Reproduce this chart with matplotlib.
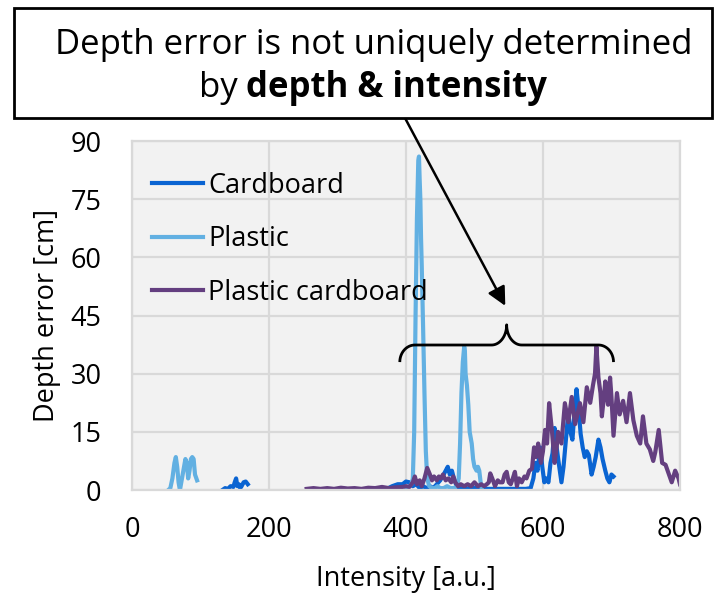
import numpy as np
import matplotlib
matplotlib.use("Agg")
import matplotlib.pyplot as plt
from matplotlib.patches import Rectangle

plt.rcParams['font.family'] = ['Open Sans', 'DejaVu Sans']

nan = np.nan

# Cardboard (two clusters, separated by NaN)
cardboard_x = [132, 136, 140, 144, 148, 150, 152, 154, 156, 158, 160, 163, 166, 169, nan,
               365, 372, 380, 388, 395, 400, 405, 410, 415, 420,
               425, 430, 435, 440, 445, 450, 455, 458, 461, 464,
               467, 470, 474, 478, 485, 495, 505, 515, 525, 535,
               545, 555, 565, 575, 582, 586, 589, 592, 596, 599,
               602, 605, 608, 611, 614, 617, 620, 623, 627, 630,
               633, 637, 640, 643, 646, 649, 652, 655, 658, 661,
               664, 667, 671, 674, 677, 681, 684, 687, 691, 694,
               697, 700, 703]
cardboard_y = [0, 0.5, 0.3, 1, 0.8, 2, 3, 1, 1.5, 0.5, 1, 2, 2.2, 1.5, nan,
               0.5, 0.3, 1, 1.5, 1.5, 2.2, 2, 1, 1.5, 0.5,
               1, 0.5, 1, 0.5, 1.5, 2.5, 4, 5, 6, 4,
               5, 3, 1, 0.5, 0.3, 0.5, 0.5, 0.3, 0.3, 0.3,
               0.3, 0.3, 0.3, 0.3, 0.5, 3, 7, 5, 11, 6,
               2, 3, 2, 7, 9.5, 16, 11, 7, 2, 6,
               12, 20, 15, 13, 20, 26, 21, 14.5, 11, 8.5,
               10, 9, 4, 6, 8.5, 13, 11, 8, 5, 3,
               2, 4, 3.5]

# Plastic
plastic_x = [53, 56, 59, 62, 64, 66, 68, 70, 72, 75, 78, 80, 82, 84, 86, 88, 90, 92, 95, nan,
             400, 405, 408, 410, 412, 414, 416, 418, 419, 420,
             421, 422, 423, 425, 427, 429, 431, 434, 438, 442,
             446, 450, 455, 460, 465, 470, 474, 477, 479, 481,
             483, 485, 486, 487, 489, 491, 493, 496, 498, 500,
             503, 505, 507, 509, 511]
plastic_y = [0, 0.5, 3, 7, 8.5, 6, 2, 0, 2, 5, 8, 7, 3, 5, 8, 8.5, 8, 4, 2.5, nan,
             0.5, 1, 1.5, 3, 15, 45, 70, 85, 86, 80,
             75, 65, 58, 42, 25, 10, 3, 1, 0.5, 0.5,
             1, 0.5, 0.5, 1, 0.5, 0.5, 1, 3, 12, 25,
             33, 37, 36, 30, 27, 22, 15, 12, 8, 6,
             5, 6, 5, 2, 0]

# Plastic cardboard
plcard_x = [255, 265, 275, 285, 295, 305, 315, 325, 335, 345,
            355, 365, 375, 385, 395, 400, 405, 410, 413, 416,
            420, 423, 427, 431, 435, 438, 441, 445, 448, 451,
            454, 458, 462, 466, 469, 472, 476, 480, 485, 490,
            495, 500, 505, 510, 514, 518, 521, 523, 526, 530,
            534, 537, 541, 544, 547, 550, 553, 556, 559, 562,
            565, 569, 573, 576, 580, 584, 587, 590, 593, 597,
            600, 603, 606, 609, 613, 617, 620, 622, 627, 632,
            637, 642, 647, 651, 654, 659, 664, 669, 673, 676,
            678, 681, 684, 686, 689, 691, 695, 698, 700, 703,
            708, 712, 717, 722, 727, 732, 737, 742, 746, 751,
            756, 761, 764, 769, 774, 779, 783, 788, 793, 798, 800]
plcard_y = [0.3, 0.5, 0.3, 0.5, 0.3, 0.6, 0.4, 0.5, 0.3, 0.6,
            0.5, 0.8, 0.5, 0.7, 0.8, 1, 0.8, 2, 3.5, 1.5,
            2.5, 1, 3, 5.7, 4, 2.5, 3.5, 2.5, 3.5, 3,
            4, 2.5, 3, 2, 3.5, 2, 1, 1.5, 1, 1.5,
            1, 2, 1, 1.5, 1, 1.5, 2, 4.3, 3, 1,
            2.5, 2, 2, 4, 4.7, 2, 1.5, 3, 4.7, 1,
            3, 2, 3.5, 3, 5, 5.5, 11, 8.5, 12, 7,
            10, 15.5, 12, 22.4, 15.5, 7, 11, 15, 12, 22.4,
            17.5, 24, 17, 20, 22.4, 17.5, 26.5, 22.5, 27, 30,
            37, 29, 25, 19, 24, 28, 22, 29, 24, 14,
            25, 19.5, 23, 17.5, 25, 18, 14, 12, 19, 12,
            10.5, 7.5, 9.8, 15.5, 7, 6.5, 4.5, 2, 5, 3, 1.5]

x_ticks = [0, 200, 400, 600, 800]
y_ticks = [0, 15, 30, 45, 60, 75, 90]

fig = plt.figure(figsize=(7.28, 5.94), dpi=100)
ax = fig.add_axes([0.1813, 0.175, 0.7527, 0.5876])
ax.set_facecolor('#f2f2f2')

lw = 3.0
ax.plot(cardboard_x, cardboard_y, color='#0a64d2', lw=lw, label='Cardboard', solid_joinstyle='round')
ax.plot(plastic_x, plastic_y, color='#62b0e2', lw=lw, label='Plastic', solid_joinstyle='round')
ax.plot(plcard_x, plcard_y, color='#643f80', lw=lw, label='Plastic cardboard', solid_joinstyle='round')

ax.set_xlim(0, 800)
ax.set_ylim(0, 90)
ax.set_xticks(x_ticks)
ax.set_yticks(y_ticks)
ax.tick_params(length=0, labelsize=19.5)
ax.tick_params(axis='x', pad=19)
ax.tick_params(axis='y', pad=22)
ax.grid(True, color='#d9d9d9', lw=1.6)
ax.set_axisbelow(True)
for s in ax.spines.values():
    s.set_color('#d9d9d9')
    s.set_linewidth(1.6)
ax.set_xlabel('Intensity [a.u.]', fontsize=19.5, labelpad=15)
ax.set_ylabel('Depth error [cm]', fontsize=19.5, labelpad=7)

ax.legend(loc='upper left', bbox_to_anchor=(0.016, 0.943), borderaxespad=0, frameon=False,
          fontsize=19.5, handlelength=1.9, handletextpad=0.18, labelspacing=0.94)

# curly brace over the right-hand region
bx0, bx1, bxc = 391, 700, 547
by0, byb, byt = 33, 37.4, 42.6
rx = 22
t = np.linspace(np.pi, np.pi / 2, 20)
left_x = np.concatenate([bx0 + rx + rx * np.cos(t),
                         bxc - rx + rx * np.cos(np.linspace(-np.pi / 2, 0, 20))])
left_y = np.concatenate([by0 + (byb - by0) * np.sin(t),
                         byt + (byt - byb) * np.sin(np.linspace(-np.pi / 2, 0, 20))])
brace_x = np.concatenate([left_x, (2 * bxc - left_x)[::-1]])
brace_y = np.concatenate([left_y, left_y[::-1]])
ax.plot(brace_x, brace_y, color='black', lw=2, solid_capstyle='butt', clip_on=False)

# arrow from box to brace
ax.annotate('', xy=(545, 47.5), xycoords='data',
            xytext=(405 / 728, 1 - 118 / 594), textcoords='figure fraction',
            arrowprops=dict(arrowstyle='-|>', color='black', lw=1.8, mutation_scale=28,
                            shrinkA=0, shrinkB=0))

# callout box
fig.patches.append(Rectangle((14 / 728, 1 - 118 / 594), 698 / 728, 110 / 594,
                             transform=fig.transFigure, fill=True, facecolor='white',
                             edgecolor='black', lw=2, zorder=5))
fig.text(374 / 728, 1 - 45 / 594, 'Depth error is not uniquely determined',
         ha='center', va='center', fontsize=25, zorder=6)

fig.canvas.draw()
r = fig.canvas.get_renderer()
t1 = fig.text(0, 1 - 88 / 594, 'by ', ha='left', va='center', fontsize=25, zorder=6)
t2 = fig.text(0, 1 - 88 / 594, 'depth & intensity', ha='left', va='center',
              fontsize=25, fontweight='bold', zorder=6)
w1 = t1.get_window_extent(r).width
w2 = t2.get_window_extent(r).width
start = 373 - (w1 + w2) / 2
t1.set_x(start / 728)
t2.set_x((start + w1) / 728)

fig.savefig('out.png', dpi=100)
